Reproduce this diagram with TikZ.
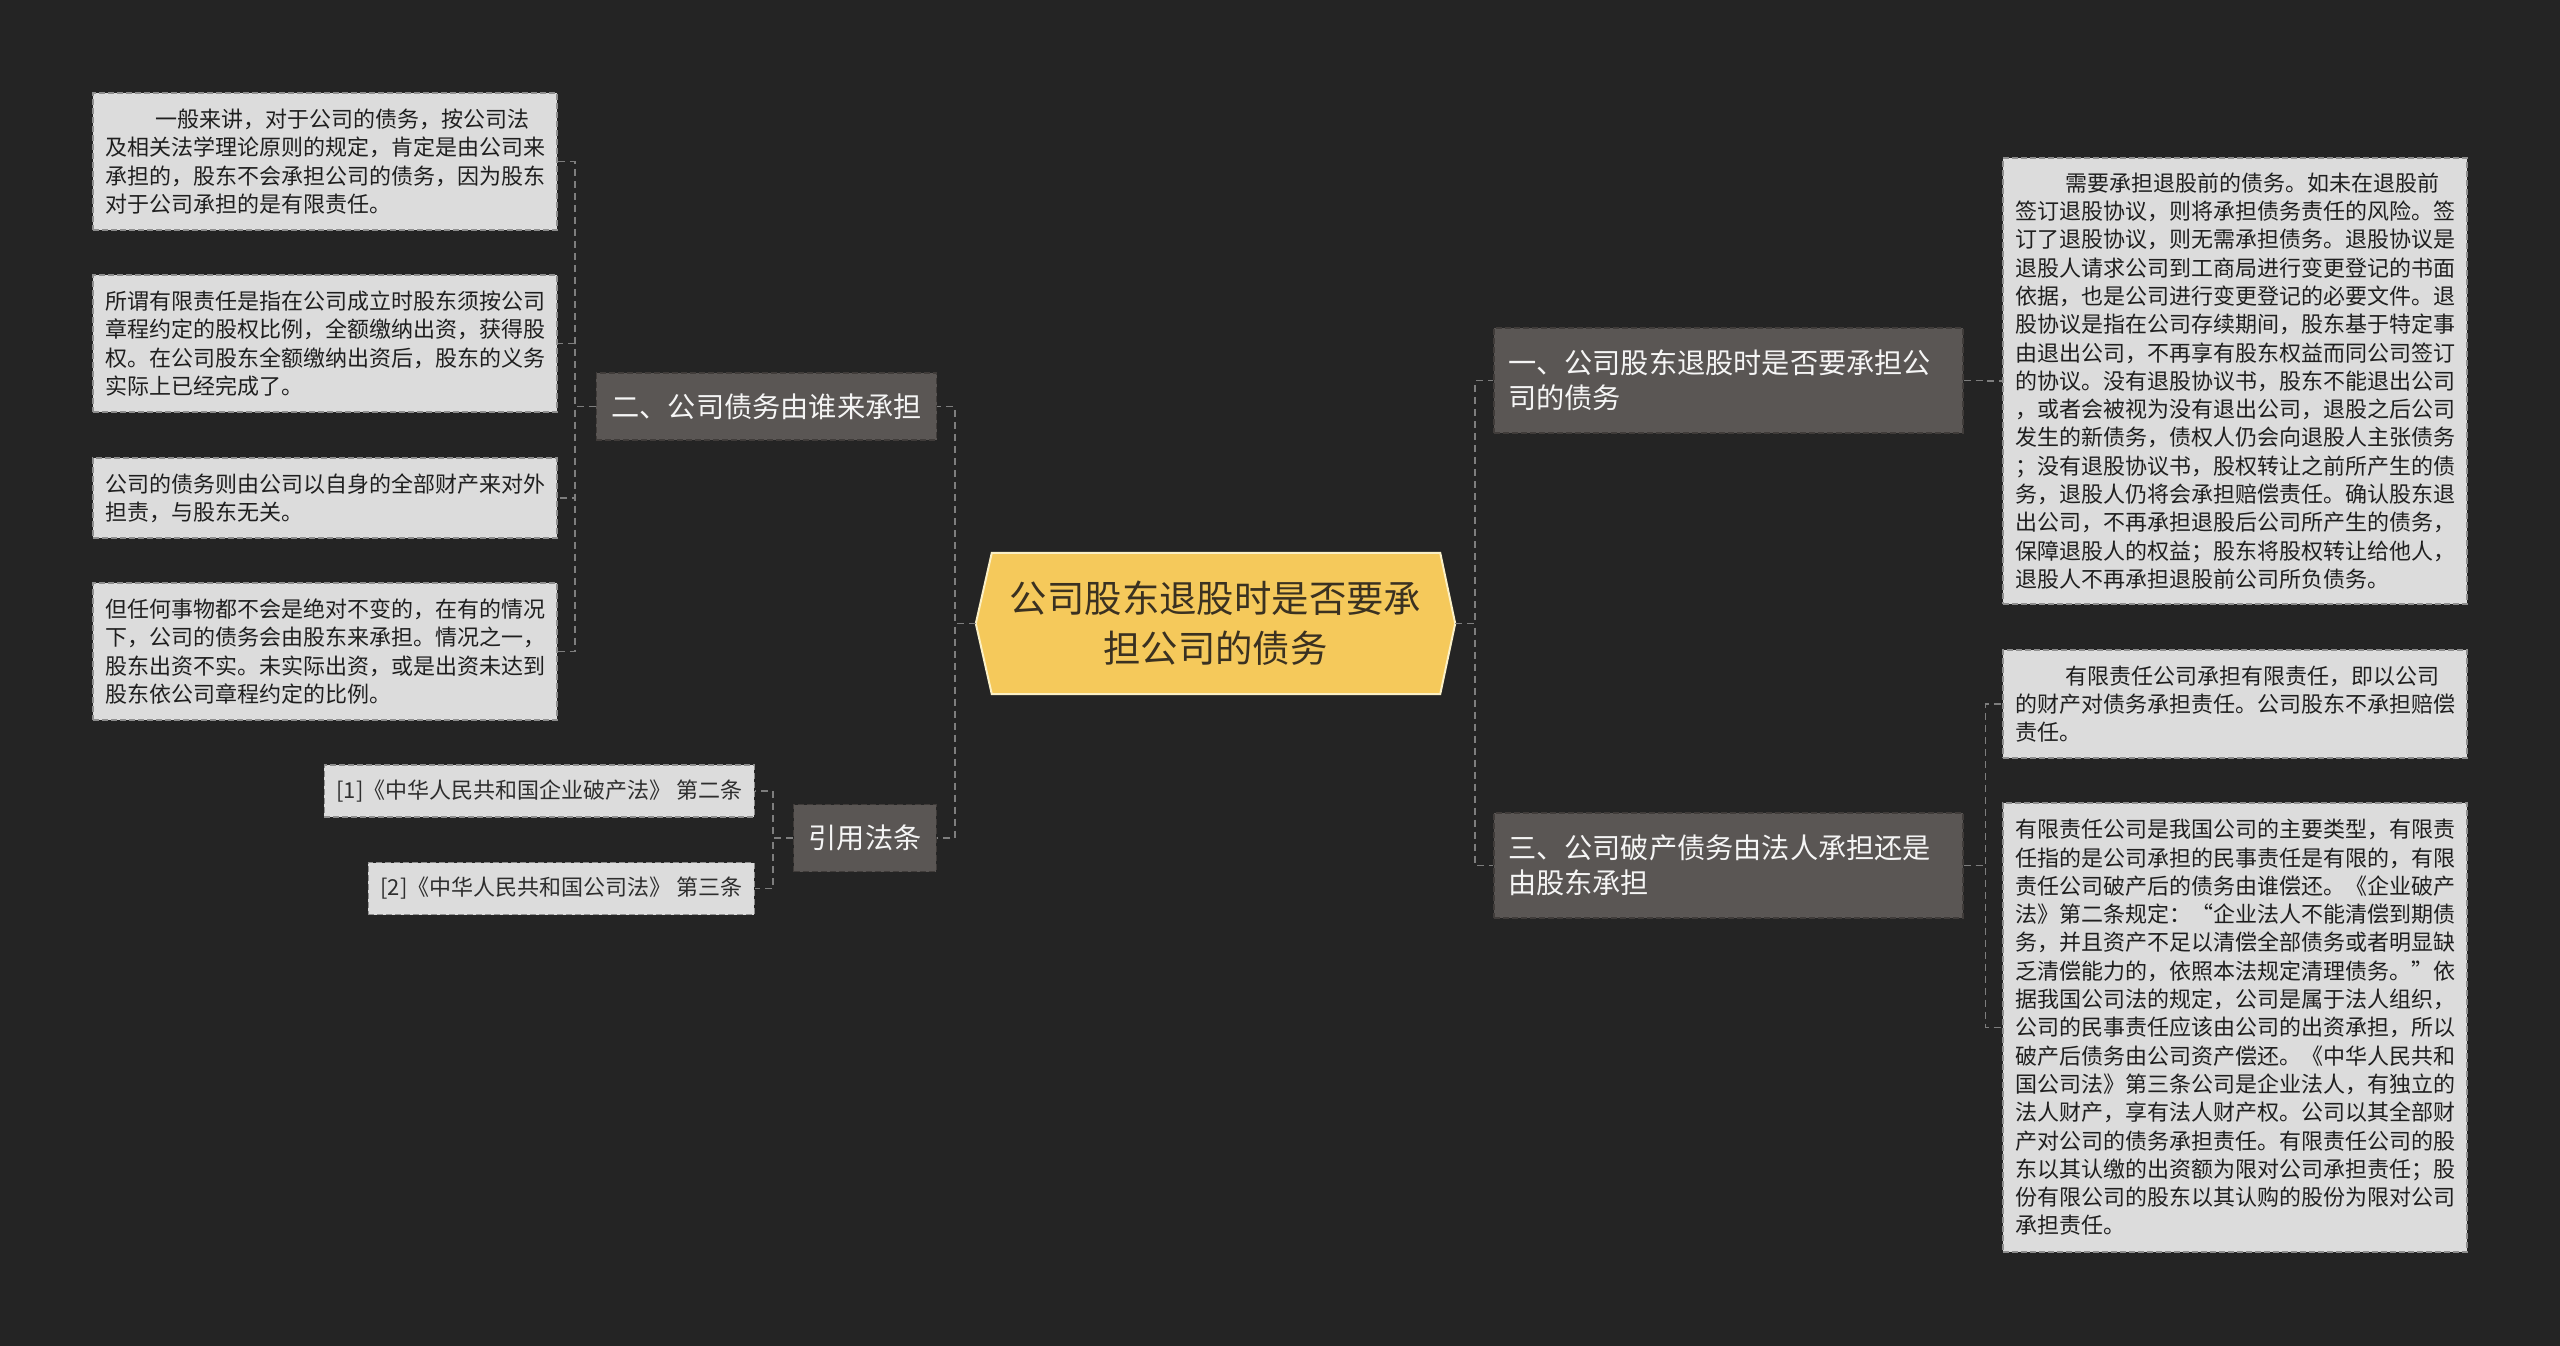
\documentclass[tikz,border=0pt]{standalone}
\usepackage{fontspec}
\usepackage{tikz}
\usetikzlibrary{positioning, calc, backgrounds}
\newfontfamily\cjk{Noto Sans CJK SC}
\newcommand{\firstindent}{\hspace*{2.3em}}
\definecolor{bgdark}{HTML}{242424}
\definecolor{rootfill}{HTML}{F5C95B}
\definecolor{rootline}{HTML}{FBF0C6}
\definecolor{roottext}{HTML}{3A3121}
\definecolor{secfill}{HTML}{5A5654}
\definecolor{secline}{HTML}{403C3A}
\definecolor{leaffill}{HTML}{DCDCDC}
\definecolor{leafline}{HTML}{8E8E8E}
\definecolor{linkgray}{HTML}{7E7E7E}

\begin{document}
\begin{tikzpicture}[x=1pt, y=-1pt,
    link/.style={draw=linkgray, line width=1.8pt, dash pattern=on 7pt off 5pt},
    leafbox/.style={draw=leafline, fill=leaffill, line width=1.1pt, dash pattern=on 6pt off 3pt,
        text=black!88, font=\cjk\fontsize{22}{28.3}\selectfont,
        text width=440pt, inner xsep=12pt, inner ysep=0pt, align=left},
    citebox/.style={draw=leafline, fill=leaffill, line width=1.1pt, dash pattern=on 6pt off 3pt,
        text=black!82, font=\cjk\fontsize{22}{26}\selectfont,
        inner xsep=12pt, inner ysep=0pt, minimum height=52pt, anchor=east},
    secbox/.style={draw=secline, fill=secfill, line width=1.1pt, dash pattern=on 6pt off 3pt,
        text=white!96!black, font=\cjk\fontsize{28.2}{35}\selectfont,
        inner xsep=15pt, inner ysep=0pt},
    rootbox/.style={text=roottext, font=\cjk\fontsize{37.4}{50}\selectfont, align=center,
        minimum width=479pt, minimum height=141pt, inner sep=0pt}]

        % ==========================================
        % BACKGROUND
        % ==========================================
        \useasboundingbox (0,0) rectangle (2560,1345);
        \begin{scope}[on background layer]
            \fill[bgdark] (-5,-5) rectangle (2565,1350);
        \end{scope}

        % ==========================================
        % CENTER: Main Topic
        % ==========================================
        \node[rootbox] (root) at (1215.5,623.5) {公司股东退股时是否要承\\担公司的债务};
        \begin{scope}[on background layer]
            \filldraw[fill=rootfill, draw=rootline, line width=2pt]
                (root.west) -- ([xshift=16pt]root.north west) -- ([xshift=-15pt]root.north east)
                -- (root.east) -- ([xshift=-15pt]root.south east) -- ([xshift=16pt]root.south west) -- cycle;
        \end{scope}

        % ==========================================
        % LEFT SIDE
        % ==========================================
        % 1. Section two and citations
        \node[secbox, minimum height=67pt] (secB) at (766.5,406.5) {二、公司债务由谁来承担};
        \node[secbox, minimum height=67pt] (law) at (865,838) {引用法条};

        % 2. Leaves of section two
        \node[leafbox, minimum height=137pt] (leftA) at (325,161.5) {\firstindent 一般来讲，对于公司的债务，按公司法\\及相关法学理论原则的规定，肯定是由公司来\\承担的，股东不会承担公司的债务，因为股东\\对于公司承担的是有限责任。};
        \node[leafbox, minimum height=137pt] (leftB) at (325,343.5) {所谓有限责任是指在公司成立时股东须按公司\\章程约定的股权比例，全额缴纳出资，获得股\\权。在公司股东全额缴纳出资后，股东的义务\\实际上已经完成了。};
        \node[leafbox, minimum height=80pt] (leftC) at (325,498) {公司的债务则由公司以自身的全部财产来对外\\担责，与股东无关。};
        \node[leafbox, minimum height=137pt] (leftD) at (325,651.5) {但任何事物都不会是绝对不变的，在有的情况\\下，公司的债务会由股东来承担。情况之一，\\股东出资不实。未实际出资，或是出资未达到\\股东依公司章程约定的比例。};

        % 3. Citations
        \node[citebox] (citeA) at (755,791) {[1]《中华人民共和国企业破产法》 第二条};
        \node[citebox] (citeB) at (755,888.5) {[2]《中华人民共和国公司法》 第三条};

        % ==========================================
        % RIGHT SIDE
        % ==========================================
        % 1. Sections one and three
        \node[secbox, text width=441pt, align=left, inner xsep=14pt, minimum height=105pt] (secA) at (1728.5,380.5) {一、公司股东退股时是否要承担公\\司的债务};
        \node[secbox, text width=441pt, align=left, inner xsep=14pt, minimum height=105pt] (secC) at (1728.5,865.5) {三、公司破产债务由法人承担还是\\由股东承担};

        % 2. Leaves
        \node[leafbox, minimum height=446pt] (rightA) at (2235,381) {\firstindent 需要承担退股前的债务。如未在退股前\\签订退股协议，则将承担债务责任的风险。签\\订了退股协议，则无需承担债务。退股协议是\\退股人请求公司到工商局进行变更登记的书面\\依据，也是公司进行变更登记的必要文件。退\\股协议是指在公司存续期间，股东基于特定事\\由退出公司，不再享有股东权益而同公司签订\\的协议。没有退股协议书，股东不能退出公司\\，或者会被视为没有退出公司，退股之后公司\\发生的新债务，债权人仍会向退股人主张债务\\；没有退股协议书，股权转让之前所产生的债\\务，退股人仍将会承担赔偿责任。确认股东退\\出公司，不再承担退股后公司所产生的债务，\\保障退股人的权益；股东将股权转让给他人，\\退股人不再承担退股前公司所负债务。};
        \node[leafbox, minimum height=108pt] (rightB) at (2235,704) {\firstindent 有限责任公司承担有限责任，即以公司\\的财产对债务承担责任。公司股东不承担赔偿\\责任。};
        \node[leafbox, minimum height=449pt] (rightC) at (2235,1027.5) {有限责任公司是我国公司的主要类型，有限责\\任指的是公司承担的民事责任是有限的，有限\\责任公司破产后的债务由谁偿还。《企业破产\\法》第二条规定：“企业法人不能清偿到期债\\务，并且资产不足以清偿全部债务或者明显缺\\乏清偿能力的，依照本法规定清理债务。”依\\据我国公司法的规定，公司是属于法人组织，\\公司的民事责任应该由公司的出资承担，所以\\破产后债务由公司资产偿还。《中华人民共和\\国公司法》第三条公司是企业法人，有独立的\\法人财产，享有法人财产权。公司以其全部财\\产对公司的债务承担责任。有限责任公司的股\\东以其认缴的出资额为限对公司承担责任；股\\份有限公司的股东以其认购的股份为限对公司\\承担责任。};

        % ==========================================
        % CONNECTORS
        % ==========================================
        \draw[link] (root.west) -- ++(-21,0) |- (secB.east);
        \draw[link] (root.west) -- ++(-21,0) |- (law.east);
        \draw[link] (root.east) -- ++(20,0) |- (secA.west);
        \draw[link] (root.east) -- ++(20,0) |- (secC.west);

        \foreach \n in {A,B,C,D}
            \draw[link] (secB.west) -- ++(-21,0) |- (left\n.east);
        \foreach \n in {A,B}
            \draw[link] (law.west) -- ++(-20,0) |- (cite\n.east);

        \draw[link] (secA.east) -- ++(22,0) |- (rightA.west);
        \foreach \n in {B,C}
            \draw[link] (secC.east) -- ++(22,0) |- (right\n.west);

    \end{tikzpicture}
\end{document}
